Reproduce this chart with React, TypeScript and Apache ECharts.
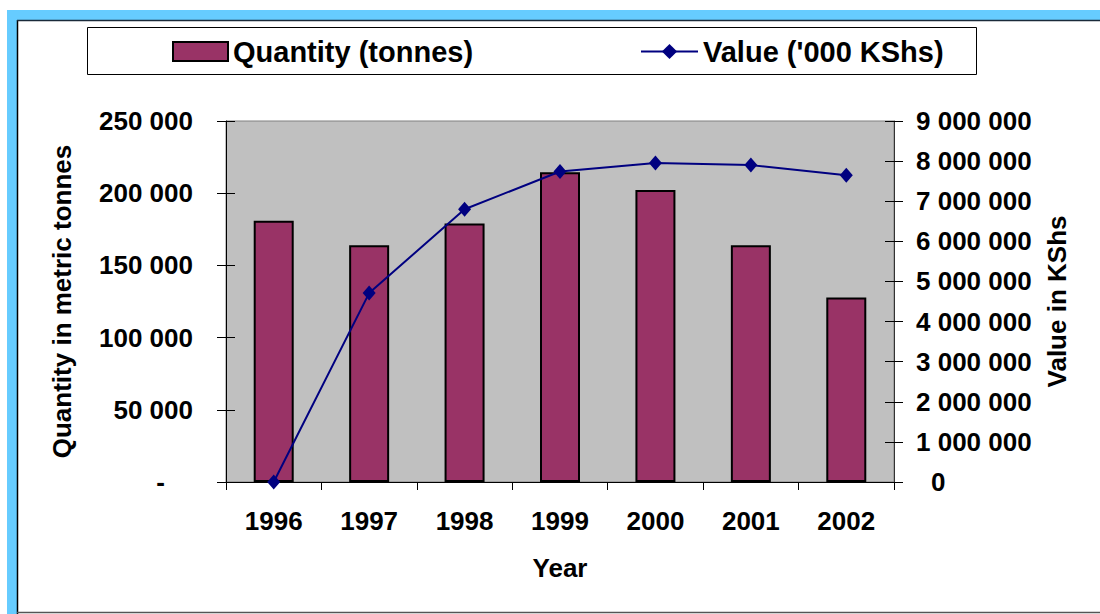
import React, { useEffect, useRef } from "react";
import * as echarts from "echarts";

const years = ["1996", "1997", "1998", "1999", "2000", "2001", "2002"];
const quantityTonnes = [180900, 163900, 179100, 214500, 202200, 164000, 127800];
const valueKShs = [0, 4710000, 6800000, 7740000, 7950000, 7900000, 7650000];
const qtyName = "Quantity (tonnes)";
const valName = "Value ('000 KShs)";

const FONT = "'Liberation Sans', Arial, sans-serif";

function spaced(v: number): string {
  return String(Math.round(v)).replace(/\B(?=(\d{3})+(?!\d))/g, " ");
}

export default function App() {
  const ref = useRef<HTMLDivElement>(null);

  useEffect(() => {
    if (!ref.current) return;
    const chart = echarts.init(ref.current, null, { renderer: "svg" });
    const label = { fontFamily: FONT, fontWeight: "bold" as const, fontSize: 26, color: "#000" };

    chart.setOption({
      animation: false,
      backgroundColor: "#ffffff",
      graphic: [
        { type: "rect", silent: true, z: 0, shape: { x: 7, y: 10, width: 1093, height: 10 }, style: { fill: "#66CCFF" } },
        { type: "rect", silent: true, z: 0, shape: { x: 7, y: 10, width: 10, height: 604 }, style: { fill: "#66CCFF" } },
        { type: "line", silent: true, z: 0, shape: { x1: 17.5, y1: 20, x2: 17.5, y2: 614 }, style: { stroke: "#000", lineWidth: 1.5 } },
        { type: "line", silent: true, z: 0, shape: { x1: 17, y1: 20.5, x2: 1100, y2: 20.5 }, style: { stroke: "#1a2a3a", lineWidth: 1.5 } },
        { type: "line", silent: true, z: 0, shape: { x1: 17, y1: 612.5, x2: 1100, y2: 612.5 }, style: { stroke: "#555", lineWidth: 1.5 } },
        { type: "rect", silent: true, z: 0, shape: { x: 87.5, y: 27.5, width: 889, height: 47 }, style: { fill: "#fff", stroke: "#000", lineWidth: 1 } },
      ],
      legend: [
        {
          data: [{ name: qtyName, itemStyle: { borderColor: "#000", borderWidth: 2 } }],
          left: 167,
          top: 32,
          itemWidth: 55,
          itemHeight: 19,
          icon: "rect",
          textStyle: { ...label, fontSize: 29 },
        },
        {
          data: [{ name: valName }],
          left: 635,
          top: 32,
          itemWidth: 57,
          itemHeight: 19,
          textStyle: { ...label, fontSize: 29 },
        },
      ],
      grid: {
        left: 226,
        top: 121,
        width: 668,
        height: 361,
        show: true,
        backgroundColor: "#C0C0C0",
        borderColor: "#808080",
        borderWidth: 1,
      },
      xAxis: {
        type: "category",
        data: years,
        name: "Year",
        nameLocation: "middle",
        nameGap: 73,
        nameTextStyle: label,
        axisLine: { lineStyle: { color: "#000", width: 1 } },
        axisTick: { show: true, length: 8, lineStyle: { color: "#000" } },
        axisLabel: { ...label, margin: 26 },
        splitLine: { show: false },
      },
      yAxis: [
        {
          type: "value",
          position: "left",
          min: 0,
          max: 250000,
          interval: 50000,
          name: "Quantity in metric tonnes",
          nameLocation: "middle",
          nameRotate: 90,
          nameGap: 151,
          nameTextStyle: label,
          axisLine: { show: true, lineStyle: { color: "#000" } },
          axisTick: { show: true, length: 9, lineStyle: { color: "#000" } },
          axisLabel: {
            ...label,
            margin: 33,
            formatter: (v: number) => (v === 0 ? "{z|-}" : spaced(v)),
            rich: { z: { ...label, padding: [0, 28, 0, 0] } },
          },
          splitLine: { show: false },
        },
        {
          type: "value",
          position: "right",
          min: 0,
          max: 9000000,
          interval: 1000000,
          name: "Value in KShs",
          nameLocation: "middle",
          nameRotate: 90,
          nameGap: 150,
          nameTextStyle: label,
          axisLine: { show: true, lineStyle: { color: "#333" } },
          axisTick: { show: true, length: 9, lineStyle: { color: "#000" } },
          axisLabel: {
            ...label,
            margin: 22,
            formatter: (v: number) => (v === 0 ? "{z|0}" : spaced(v)),
            rich: { z: { ...label, padding: [0, 0, 0, 15] } },
          },
          splitLine: { show: false },
        },
        {
          type: "value",
          position: "left",
          min: 0,
          max: 250000,
          interval: 50000,
          axisLine: { show: false },
          axisTick: { show: true, inside: true, length: 9, lineStyle: { color: "#000" } },
          axisLabel: { show: false },
          splitLine: { show: false },
        },
        {
          type: "value",
          position: "right",
          min: 0,
          max: 9000000,
          interval: 1000000,
          axisLine: { show: false },
          axisTick: { show: true, inside: true, length: 9, lineStyle: { color: "#000" } },
          axisLabel: { show: false },
          splitLine: { show: false },
        },
      ],
      series: [
        {
          name: qtyName,
          type: "bar",
          yAxisIndex: 0,
          data: quantityTonnes,
          barWidth: 40,
          itemStyle: { color: "#993366", borderColor: "#000", borderWidth: 2 },
        },
        {
          name: valName,
          type: "line",
          yAxisIndex: 1,
          data: valueKShs,
          clip: false,
          symbol: "diamond",
          symbolSize: [13, 15],
          lineStyle: { color: "#000080", width: 2 },
          itemStyle: { color: "#000080" },
          z: 5,
        },
      ],
    });

    return () => chart.dispose();
  }, []);

  return (
    <div
      ref={ref}
      style={{ position: "fixed", left: 0, top: 0, width: 1100, height: 614 }}
    />
  );
}
